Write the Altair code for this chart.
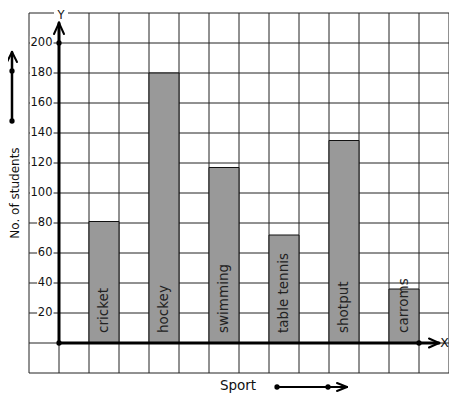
import altair as alt
import pandas as pd

# ---- data ----
sports = ["cricket", "hockey", "swimming", "table tennis", "shotput", "carroms"]
students = [81, 180, 117, 72, 135, 36]
y_tick_values = [20, 40, 60, 80, 100, 120, 140, 160, 180, 200]
x_title = "Sport"
y_title = "No. of students"

# ---- layout helpers (page pixels -> data units) ----
W, H = 420, 360
FONT = "DejaVu Sans"


def ux(p):
    return (p - 59) / 30.0


def uy(p):
    return (343 - p) / 1.5


xs = alt.Scale(domain=[-1, 13], nice=False, zero=False)
ys = alt.Scale(domain=[-20, 220], nice=False, zero=False)

# grid
vgrid = pd.DataFrame({"gx": list(range(-1, 14)), "ya": -20, "yb": 220})
hgrid = pd.DataFrame({"gy": list(range(-20, 221, 20)), "xa": -1, "xb": 13})

grid_v = alt.Chart(vgrid).mark_rule(color="#222", strokeWidth=1).encode(
    x=alt.X("gx:Q", scale=xs, axis=None),
    y=alt.Y("ya:Q", scale=ys, axis=None),
    y2="yb:Q",
)
grid_h = alt.Chart(hgrid).mark_rule(color="#222", strokeWidth=1).encode(
    y=alt.Y("gy:Q", scale=ys, axis=None),
    x=alt.X("xa:Q", scale=xs, axis=None),
    x2="xb:Q",
)

# bars
bars_df = pd.DataFrame({
    "sport": sports,
    "n": students,
    "x0": [2 * i + 1 for i in range(len(sports))],
})
bars_df["x1"] = bars_df["x0"] + 1
bars_df["xc"] = bars_df["x0"] + 0.5
bars_df["base"] = 0

bars = alt.Chart(bars_df).mark_rect(fill="#999999", stroke="#111", strokeWidth=1).encode(
    x=alt.X("x0:Q", scale=xs, axis=None),
    x2="x1:Q",
    y=alt.Y("base:Q", scale=ys, axis=None),
    y2="n:Q",
)
bar_labels = alt.Chart(bars_df).mark_text(
    angle=270, align="left", baseline="middle", dx=10,
    fontSize=13.5, font=FONT, color="#222"
).encode(
    x=alt.X("xc:Q", scale=xs, axis=None),
    y=alt.Y("base:Q", scale=ys, axis=None),
    text="sport:N",
)

# tick labels with white background
tick_df = pd.DataFrame({"v": y_tick_values})
tick_df["lab"] = tick_df["v"].astype(str)
tick_df["bx0"] = [ux(53 - 7.2 * len(s) - 1.5) for s in tick_df["lab"]]
tick_df["bx1"] = ux(53.5)
tick_df["tx"] = ux(52.5)
tick_df["by0"] = tick_df["v"] - 4.5
tick_df["by1"] = tick_df["v"] + 4.5

tick_bg = alt.Chart(tick_df).mark_rect(color="white").encode(
    x=alt.X("bx0:Q", scale=xs, axis=None),
    x2="bx1:Q",
    y=alt.Y("by0:Q", scale=ys, axis=None),
    y2="by1:Q",
)
tick_txt = alt.Chart(tick_df).mark_text(
    align="right", baseline="middle", fontSize=11.5, font=FONT, color="#111"
).encode(
    x=alt.X("tx:Q", scale=xs, axis=None),
    y=alt.Y("v:Q", scale=ys, axis=None),
    text="lab:N",
)

# axis lines and arrows (page pixel segments)
segs = [
    (59, 343, 59, 23, 3), (59, 23, 54, 34, 2), (59, 23, 64, 34, 2),
    (59, 343, 439, 343, 3), (439, 343, 429, 338.5, 2), (439, 343, 429, 347.5, 2),
    (12, 121, 12, 52, 2.5), (12, 52, 7, 62, 2), (12, 52, 17, 62, 2),
    (277, 387, 347, 387, 2), (347, 387, 337, 383, 2), (347, 387, 337, 391, 2),
]
seg_df = pd.DataFrame({
    "sx": [ux(s[0]) for s in segs], "sy": [uy(s[1]) for s in segs],
    "ex": [ux(s[2]) for s in segs], "ey": [uy(s[3]) for s in segs],
    "w": [s[4] for s in segs],
})
seg_layer = alt.Chart(seg_df).mark_rule(color="black", strokeCap="round").encode(
    x=alt.X("sx:Q", scale=xs, axis=None), x2="ex:Q",
    y=alt.Y("sy:Q", scale=ys, axis=None), y2="ey:Q",
    strokeWidth=alt.StrokeWidth("w:Q", scale=None, legend=None),
)

dots = [(59, 43), (59, 343), (419, 343), (12, 121), (12, 71), (277, 387), (328, 387)]
dot_df = pd.DataFrame({"dx": [ux(d[0]) for d in dots], "dy": [uy(d[1]) for d in dots]})
dot_layer = alt.Chart(dot_df).mark_point(filled=True, color="black", size=28, opacity=1).encode(
    x=alt.X("dx:Q", scale=xs, axis=None),
    y=alt.Y("dy:Q", scale=ys, axis=None),
)

# axis letters and titles
ybg_df = pd.DataFrame({"a": [ux(54)], "b": [ux(68)], "c": [uy(9)], "d": [uy(21)]})
ybg = alt.Chart(ybg_df).mark_rect(color="white").encode(
    x=alt.X("a:Q", scale=xs, axis=None), x2="b:Q",
    y=alt.Y("c:Q", scale=ys, axis=None), y2="d:Q",
)


def label_layer(text, px_x, px_y, size, baseline="middle", angle=0):
    df = pd.DataFrame({"t": [text], "lx": [ux(px_x)], "ly": [uy(px_y)]})
    kw = dict(align="center", baseline=baseline, font=FONT, fontSize=size, color="#111")
    if angle:
        kw["angle"] = angle
    return alt.Chart(df).mark_text(**kw).encode(
        x=alt.X("lx:Q", scale=xs, axis=None),
        y=alt.Y("ly:Q", scale=ys, axis=None),
        text="t:N",
    )


y_letter = label_layer("Y", 61, 15.5, 11.5)
x_letter = label_layer("X", 444.5, 342.5, 12.5)
sport_lbl = label_layer(x_title, 238, 385.5, 13.5)
ytitle = label_layer(y_title, 14.5, 193, 12, angle=270)

chart = alt.layer(
    grid_v, grid_h, bars, bar_labels, tick_bg, tick_txt, ybg,
    seg_layer, dot_layer, y_letter, x_letter, sport_lbl, ytitle,
).properties(
    width=W, height=H,
    autosize=alt.AutoSizeParams(type="none"),
    padding={"left": 21, "top": 5, "right": 0, "bottom": 25},
    background="white",
).configure_view(stroke=None)

chart.save("out.html", embed_options={"renderer": "svg", "actions": False})
